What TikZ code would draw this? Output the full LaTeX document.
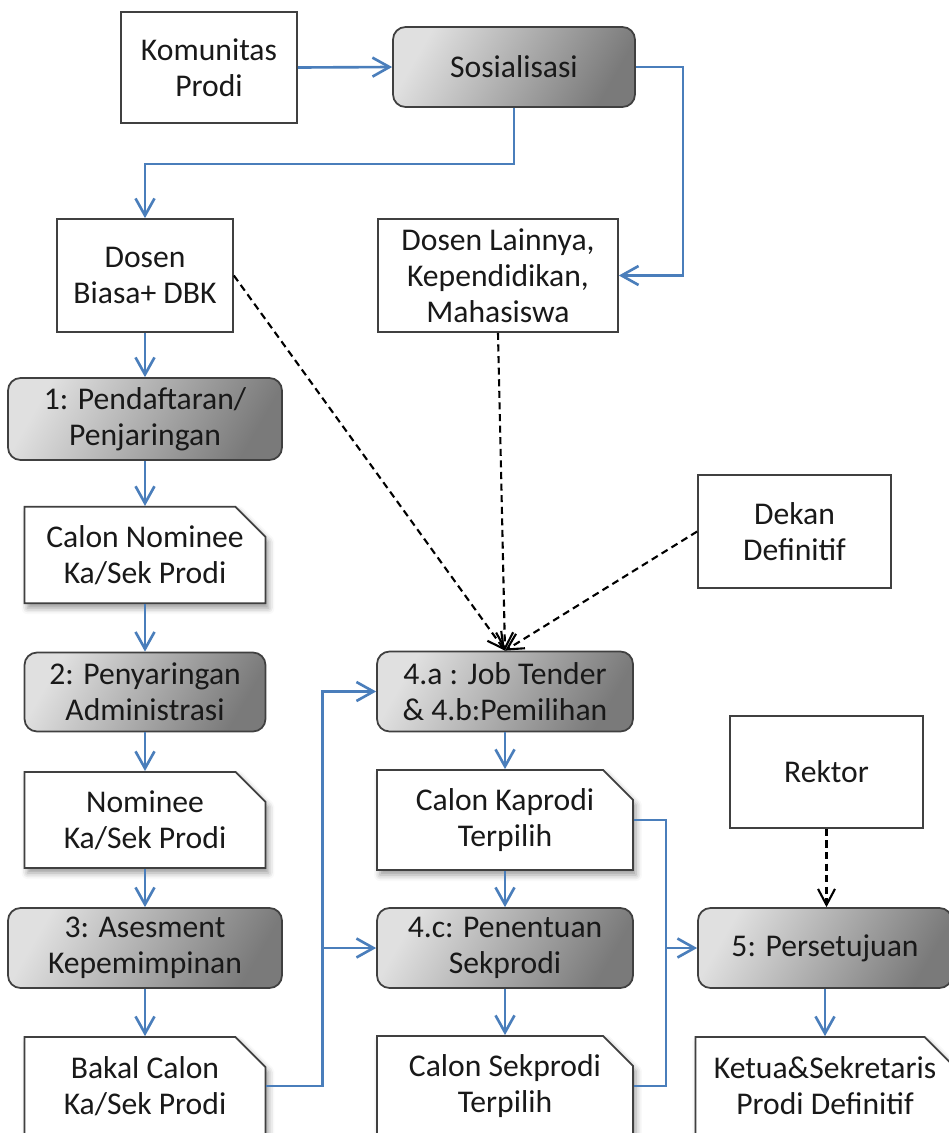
\documentclass[tikz,border=0pt]{standalone}
\usepackage{fontspec}
\setmainfont{Carlito}
\usetikzlibrary{arrows.meta,shapes.misc,shadows.blur}
\definecolor{flowblue}{RGB}{74,126,187}
\definecolor{boxline}{RGB}{64,64,64}

\begin{document}
\begin{tikzpicture}[x=0.02cm, y=-0.02cm,
  basebox/.style={align=center, inner sep=2pt, text=black!90, font=\fontsize{18}{20.5}\selectfont},
  plainbox/.style={basebox, draw=boxline, line width=1pt, fill=white},
  stepbox/.style={basebox, draw=boxline, line width=1pt, rounded corners=0.25cm,
    top color=black!12, bottom color=black!52, shading angle=60},
  docbox/.style={basebox, chamfered rectangle, chamfered rectangle corners=north east,
    chamfered rectangle xsep=0.3cm, chamfered rectangle ysep=0.3cm,
    draw=boxline, line width=1pt, fill=white,
    blur shadow={shadow xshift=0.6mm, shadow yshift=-1mm, shadow blur radius=1.2mm, shadow opacity=40}},
  flowline/.style={draw=flowblue, line width=1.5pt},
  flow/.style={flowline, -{Straight Barb[length=3.4mm,width=3.8mm]}},
  link/.style={dash pattern=on 4pt off 2.6pt, line width=1.2pt, -{Straight Barb[length=3.2mm,width=3.4mm]}}]
\useasboundingbox (0,0) rectangle (949,1133);

% Top row
\node[plainbox, minimum width=3.52cm, minimum height=2.22cm] (komunitas) at (209,67.5) {Komunitas\\Prodi};
\node[stepbox, minimum width=4.84cm, minimum height=1.6cm] (sosialisasi) at (514,67) {Sosialisasi};
\node[plainbox, minimum width=3.52cm, minimum height=2.26cm] (dosenbiasa) at (145,275.5) {Dosen\\Biasa+ DBK};
\node[plainbox, minimum width=4.8cm, minimum height=2.26cm] (dosenlain) at (498,275.5) {Dosen Lainnya,\\Kependidikan,\\Mahasiswa};

% Left column
\node[stepbox, minimum width=5.48cm, minimum height=1.64cm] (pendaftaran) at (145,419) {1: Pendaftaran/\\Penjaringan};
\node[docbox, minimum width=4.82cm, minimum height=1.92cm] (calonnominee) at (145,555) {Calon Nominee\\Ka/Sek Prodi};
\node[stepbox, minimum width=4.82cm, minimum height=1.58cm] (penyaringan) at (145,692) {2: Penyaringan\\Administrasi};
\node[docbox, minimum width=4.82cm, minimum height=1.6cm] (nominee) at (145,820) {Nominee\\Ka/Sek Prodi};
\node[stepbox, minimum width=5.48cm, minimum height=1.6cm] (asesment) at (145,948) {3: Asesment\\Kepemimpinan};
\node[docbox, minimum width=4.82cm, minimum height=1.96cm] (bakal) at (145,1086) {Bakal Calon\\Ka/Sek Prodi};

% Middle column
\node[plainbox, minimum width=3.86cm, minimum height=2.26cm] (dekan) at (794.5,531.5) {Dekan\\Definitif};
\node[stepbox, minimum width=5.12cm, minimum height=1.6cm] (jobtender) at (505,691.5) {4.a : Job Tender\\\& 4.b:Pemilihan};
\node[docbox, minimum width=5.12cm, minimum height=1.6cm] (calonkaprodi) at (505,820) {Calon Kaprodi\\Terpilih};
\node[stepbox, minimum width=5.12cm, minimum height=1.6cm] (penentuan) at (505,948) {4.c: Penentuan\\Sekprodi};
\node[docbox, minimum width=5.12cm, minimum height=1.96cm] (calonsekprodi) at (505,1086) {Calon Sekprodi\\Terpilih};

% Right column
\node[plainbox, minimum width=3.86cm, minimum height=2.24cm] (rektor) at (826.5,772) {Rektor};
\node[stepbox, minimum width=5.08cm, minimum height=1.6cm] (persetujuan) at (825,948) {5: Persetujuan};
\node[docbox, minimum width=5.08cm, minimum height=1.96cm] (ketua) at (825,1086) {Ketua\&Sekretaris\\Prodi Definitif};

% Blue flow
\draw[flow] (komunitas.east) -- (sosialisasi.west);
\draw[flow] (sosialisasi.south) -- ++(0,56) -| (dosenbiasa.north);
\draw[flow] (sosialisasi.east) -- ++(47,0) |- (dosenlain.east);
\draw[flow] (dosenbiasa.south) -- (pendaftaran.north);
\draw[flow] (pendaftaran.south) -- (calonnominee.north);
\draw[flow] (calonnominee.south) -- (penyaringan.north);
\draw[flow] (penyaringan.south) -- (nominee.north);
\draw[flow] (nominee.south) -- (asesment.north);
\draw[flow] (asesment.south) -- (bakal.north);
\draw[flow] (bakal.east) -- ++(56,0) coordinate (feed) |- (jobtender.west);
\draw[flow] (feed) |- (penentuan.west);
\draw[flow] (jobtender.south) -- (calonkaprodi.north);
\draw[flow] (calonkaprodi.south) -- (penentuan.north);
\draw[flow] (penentuan.south) -- (calonsekprodi.north);
\draw[flowline] (calonkaprodi.east) -- ++(32,0) coordinate (merge) |- (calonsekprodi.east);
\draw[flow] (merge |- persetujuan.west) -- (persetujuan.west);
\draw[flow] (persetujuan.south) -- (ketua.north);

% Dashed links
\draw[link] (dosenbiasa.east) -- (jobtender.north);
\draw[link] (dosenlain.south) -- (jobtender.north);
\draw[link] (dekan.west) -- (jobtender.north);
\draw[link] (rektor.south) -- (rektor.south |- persetujuan.north);
\end{tikzpicture}
\end{document}
